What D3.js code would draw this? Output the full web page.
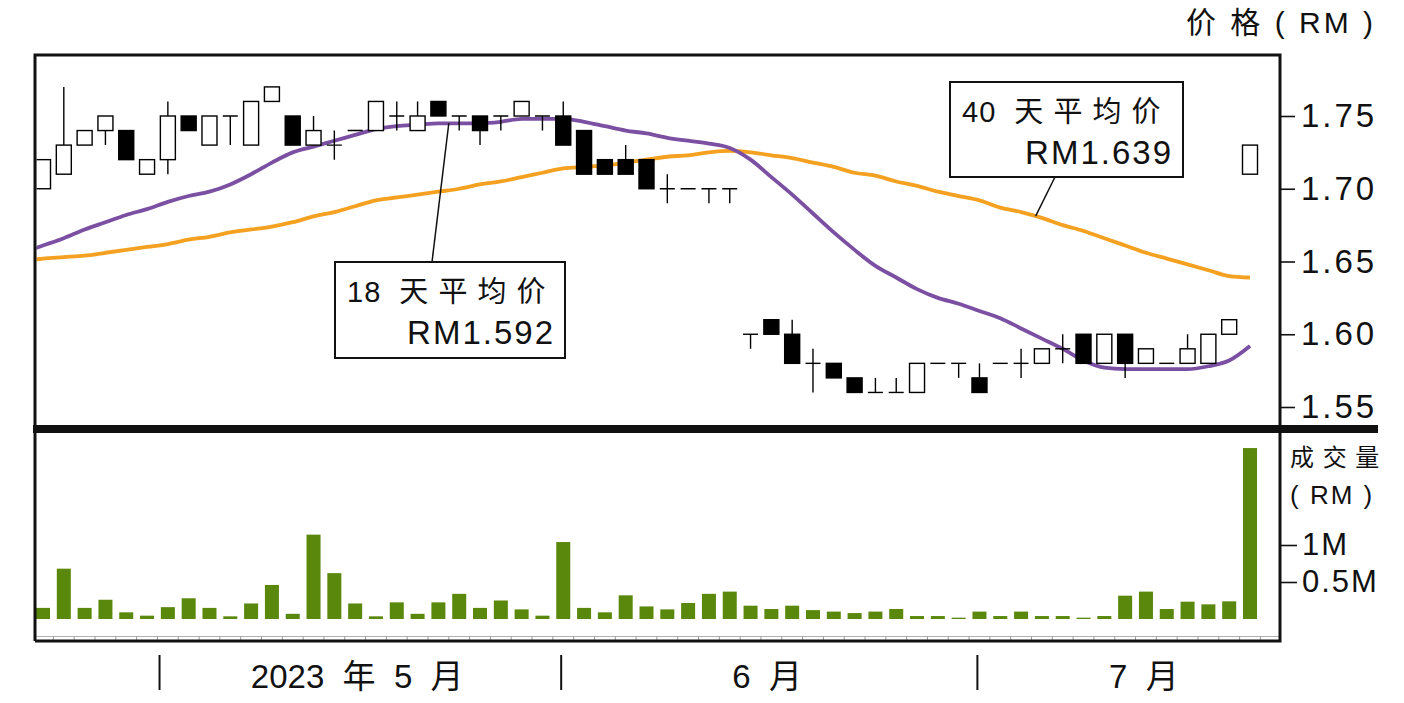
<!DOCTYPE html>
<html>
<head>
<meta charset="utf-8">
<script src="https://cdn.jsdelivr.net/npm/d3@7"></script>
<style>
  body { margin: 0; background: #fff; }
  svg { display: block; }
  text { white-space: pre; }
</style>
</head>
<body>
<svg width="1404" height="703"></svg>
<script>
// daily candles (RM)
const opens  = [1.70,1.71,1.73,1.74,1.74,1.71,1.72,1.75,1.73,1.75,1.73,1.76,1.75,1.73,1.73,1.74,1.74,1.75,1.74,1.76,
                1.75,1.75,1.75,1.75,1.75,1.75,1.74,1.72,1.72,1.72,1.70,1.70,1.70,1.70,1.60,1.61,1.60,1.58,1.58,1.57,
                1.56,1.56,1.56,1.58,1.58,1.57,1.58,1.58,1.58,1.59,1.60,1.58,1.60,1.58,1.58,1.58,1.58,1.60,1.71];
const highs  = [1.72,1.77,1.74,1.75,1.74,1.72,1.76,1.75,1.75,1.75,1.76,1.77,1.75,1.75,1.74,1.74,1.76,1.76,1.76,1.76,
                1.75,1.75,1.75,1.76,1.75,1.76,1.74,1.72,1.73,1.72,1.71,1.70,1.70,1.70,1.60,1.61,1.61,1.59,1.58,1.57,
                1.57,1.57,1.58,1.58,1.58,1.58,1.58,1.59,1.59,1.60,1.60,1.60,1.60,1.59,1.58,1.60,1.60,1.61,1.73];
const lows   = [1.70,1.71,1.73,1.73,1.72,1.71,1.71,1.74,1.73,1.73,1.73,1.76,1.73,1.73,1.72,1.74,1.74,1.74,1.74,1.75,
                1.74,1.73,1.74,1.75,1.74,1.73,1.71,1.71,1.71,1.70,1.69,1.70,1.69,1.69,1.59,1.60,1.58,1.56,1.57,1.56,
                1.56,1.56,1.56,1.58,1.57,1.56,1.58,1.57,1.58,1.58,1.58,1.58,1.57,1.58,1.58,1.58,1.58,1.60,1.71];
const closes = [1.72,1.73,1.74,1.75,1.72,1.72,1.75,1.74,1.75,1.75,1.76,1.77,1.73,1.74,1.73,1.74,1.76,1.75,1.75,1.75,
                1.75,1.74,1.75,1.76,1.75,1.73,1.71,1.71,1.71,1.70,1.70,1.70,1.70,1.70,1.60,1.60,1.58,1.58,1.57,1.56,
                1.56,1.56,1.58,1.58,1.58,1.56,1.58,1.58,1.59,1.59,1.58,1.60,1.58,1.59,1.58,1.59,1.60,1.61,1.73];

// volume in millions (RM)
const volumes = [0.15,0.68,0.15,0.26,0.09,0.045,0.16,0.28,0.15,0.036,0.21,0.46,0.07,1.14,0.62,0.21,0.036,0.225,0.07,0.225,
                 0.34,0.15,0.25,0.13,0.045,1.04,0.15,0.09,0.32,0.17,0.13,0.216,0.34,0.37,0.18,0.135,0.18,0.12,0.10,0.08,
                 0.10,0.135,0.04,0.04,0.018,0.10,0.04,0.10,0.04,0.04,0.018,0.04,0.315,0.37,0.135,0.234,0.198,0.239,2.31];

// moving averages, first value is the day before the first candle
const ma18 = [1.656,1.661,1.666,1.672,1.677,1.682,1.686,1.691,1.695,1.698,1.703,1.710,1.718,1.725,1.729,1.733,1.737,1.741,1.743,1.744,
              1.745,1.745,1.745,1.746,1.748,1.748,1.748,1.746,1.743,1.740,1.738,1.735,1.733,1.731,1.728,1.720,1.708,1.696,1.683,1.670,
              1.658,1.647,1.639,1.631,1.625,1.621,1.616,1.611,1.604,1.597,1.590,1.582,1.577,1.576,1.576,1.576,1.576,1.578,1.582,1.592];
const ma40 = [1.650,1.652,1.653,1.654,1.656,1.658,1.660,1.662,1.665,1.667,1.670,1.672,1.674,1.677,1.681,1.684,1.688,1.692,1.694,1.696,
              1.698,1.700,1.703,1.705,1.708,1.711,1.714,1.715,1.716,1.718,1.720,1.722,1.723,1.725,1.726,1.725,1.723,1.721,1.718,1.715,
              1.711,1.709,1.705,1.702,1.698,1.695,1.692,1.687,1.684,1.680,1.675,1.671,1.666,1.661,1.656,1.652,1.648,1.644,1.640,1.639];

const priceTicks = [1.55, 1.60, 1.65, 1.70, 1.75];
const volTicks = [1, 0.5];
const monthBreaks = [5.6, 24.9, 44.9];            // in candle index units
const monthLabels = ["2023  年  5  月", "6  月", "7  月"];
const monthLabelAt = [15.1, 34.8, 52.9];

const FONT = '"Liberation Sans", Arial, "Noto Sans CJK SC", sans-serif';

const svg = d3.select("svg");
const plotLeft = 35, plotRight = 1280, plotTop = 55, priceBottom = 425, volBottom = 641;

const x = d3.scaleLinear().domain([0, 58]).range([43, 1250]);
const y = d3.scaleLinear().domain([1.55, 1.75]).range([407, 116]);
const yv = d3.scaleLinear().domain([0, 1]).range([619, 545]);

const days = d3.range(opens.length);
const maDays = d3.range(-1, opens.length);

// clip for the price panel
svg.append("defs").append("clipPath").attr("id", "clipPrice")
  .append("rect").attr("x", plotLeft + 1.5).attr("y", plotTop + 1.5)
  .attr("width", plotRight - plotLeft - 3).attr("height", priceBottom - plotTop - 1.5);

const plot = svg.append("g").attr("clip-path", "url(#clipPrice)");

// moving average lines (drawn under the candles)
const maLine = arr => d3.line()
  .x((d, k) => x(maDays[k]))
  .y(d => y(d))
  .curve(d3.curveMonotoneX)(arr);

plot.append("path").attr("d", maLine(ma40))
  .attr("fill", "none").attr("stroke", "#f4a020").attr("stroke-width", 3.8);
plot.append("path").attr("d", maLine(ma18))
  .attr("fill", "none").attr("stroke", "#7b4fa2").attr("stroke-width", 3.8);

// wicks
plot.selectAll(".wick").data(days).join("line")
  .attr("class", "wick")
  .attr("x1", i => x(i)).attr("x2", i => x(i))
  .attr("y1", i => y(highs[i])).attr("y2", i => y(lows[i]))
  .attr("stroke", "#000").attr("stroke-width", 1.4);

// bodies
plot.selectAll(".body").data(days.filter(i => opens[i] !== closes[i])).join("rect")
  .attr("class", "body")
  .attr("x", i => x(i) - 7.5).attr("width", 15)
  .attr("y", i => y(Math.max(opens[i], closes[i])))
  .attr("height", i => Math.abs(y(opens[i]) - y(closes[i])))
  .attr("fill", i => closes[i] < opens[i] ? "#000" : "#fff")
  .attr("stroke", "#000").attr("stroke-width", 1.4);

// doji: open == close
plot.selectAll(".doji").data(days.filter(i => opens[i] === closes[i])).join("line")
  .attr("class", "doji")
  .attr("x1", i => x(i) - 7.5).attr("x2", i => x(i) + 7.5)
  .attr("y1", i => y(opens[i])).attr("y2", i => y(opens[i]))
  .attr("stroke", "#000").attr("stroke-width", 1.4);

// volume bars
svg.append("g").selectAll("rect").data(days).join("rect")
  .attr("x", i => x(i) - 7).attr("width", 14)
  .attr("y", i => yv(volumes[i]))
  .attr("height", i => yv(0) - yv(volumes[i]))
  .attr("fill", "#5a880c");

// small day ticks along the bottom of the volume panel
svg.append("line").attr("x1", plotLeft).attr("x2", plotRight).attr("y1", 636.5).attr("y2", 636.5)
  .attr("stroke", "#b0b0b0").attr("stroke-width", 1);
svg.append("g").selectAll("line").data(days).join("line")
  .attr("x1", i => x(i) + 10.4).attr("x2", i => x(i) + 10.4)
  .attr("y1", 636.5).attr("y2", 640)
  .attr("stroke", "#999").attr("stroke-width", 1);

// frame
svg.append("path")
  .attr("d", `M${plotLeft},${volBottom}V${plotTop}H${plotRight}V${volBottom}H${plotLeft}`)
  .attr("fill", "none").attr("stroke", "#111").attr("stroke-width", 3);
svg.append("rect").attr("x", 33).attr("y", priceBottom).attr("width", 1378 - 33).attr("height", 8)
  .attr("fill", "#111");

// price axis
const ya = svg.append("g").attr("transform", `translate(${plotRight},0)`)
  .call(d3.axisRight(y).tickValues(priceTicks).tickSize(15).tickPadding(6).tickFormat(d3.format(".2f")));
ya.select(".domain").remove();
ya.selectAll("line").attr("stroke", "#111").attr("stroke-width", 1.6);
ya.selectAll("text").attr("font-family", FONT).attr("font-size", 33)
  .attr("letter-spacing", 3).attr("fill", "#111");

// volume axis
const yva = svg.append("g").attr("transform", `translate(${plotRight},0)`)
  .call(d3.axisRight(yv).tickValues(volTicks).tickSize(17).tickPadding(5).tickFormat(d => d + "M"));
yva.select(".domain").remove();
yva.selectAll("line").attr("stroke", "#111").attr("stroke-width", 1.6);
yva.selectAll("text").attr("font-family", FONT).attr("font-size", 31)
  .attr("letter-spacing", 2).attr("fill", "#111");

// axis titles
svg.append("text").attr("x", 1376).attr("y", 33).attr("text-anchor", "end")
  .attr("font-family", FONT).attr("font-size", 30).attr("letter-spacing", 3).attr("fill", "#111")
  .text("价 格 ( RM )");
svg.append("text").attr("x", 1290).attr("y", 466)
  .attr("font-family", FONT).attr("font-size", 24).attr("letter-spacing", 1).attr("fill", "#111")
  .text("成 交 量");
svg.append("text").attr("x", 1290).attr("y", 504)
  .attr("font-family", FONT).attr("font-size", 26).attr("letter-spacing", 2).attr("fill", "#111")
  .text("( RM )");

// months along the bottom
svg.append("g").selectAll("line").data(monthBreaks).join("line")
  .attr("x1", d => x(d)).attr("x2", d => x(d)).attr("y1", 655).attr("y2", 690)
  .attr("stroke", "#111").attr("stroke-width", 2);
svg.append("g").selectAll("text").data(monthLabels).join("text")
  .attr("x", (d, k) => x(monthLabelAt[k])).attr("y", 688)
  .attr("text-anchor", "middle")
  .attr("font-family", FONT).attr("font-size", 33).attr("fill", "#111")
  .text(d => d);

// callout boxes for the two averages
function callout(bx, by, bw, bh, title, value, lx, ly, px, py) {
  svg.append("line").attr("x1", lx).attr("y1", ly).attr("x2", px).attr("y2", py)
    .attr("stroke", "#111").attr("stroke-width", 1.5);
  svg.append("rect").attr("x", bx).attr("y", by).attr("width", bw).attr("height", bh)
    .attr("fill", "#fff").attr("stroke", "#111").attr("stroke-width", 2);
  svg.append("text").attr("x", bx + 12).attr("y", by + 40)
    .attr("font-family", FONT).attr("font-size", 29).attr("letter-spacing", 1).attr("fill", "#111")
    .text(title);
  svg.append("text").attr("x", bx + bw - 10).attr("y", by + 82).attr("text-anchor", "end")
    .attr("font-family", FONT).attr("font-size", 33).attr("letter-spacing", 2).attr("fill", "#111")
    .text(value);
}

const last = ma18.length - 1;
callout(335, 262, 230, 96, "18  天 平 均 价", "RM" + ma18[last].toFixed(3),
        432, 262, x(19.5), y((ma18[20] + ma18[21]) / 2));
callout(950, 82, 233, 95, "40  天 平 均 价", "RM" + ma40[last].toFixed(3),
        1055, 177, x(47.7), y(d3.interpolateNumber(ma40[48], ma40[49])(0.7)));
</script>
</body>
</html>
